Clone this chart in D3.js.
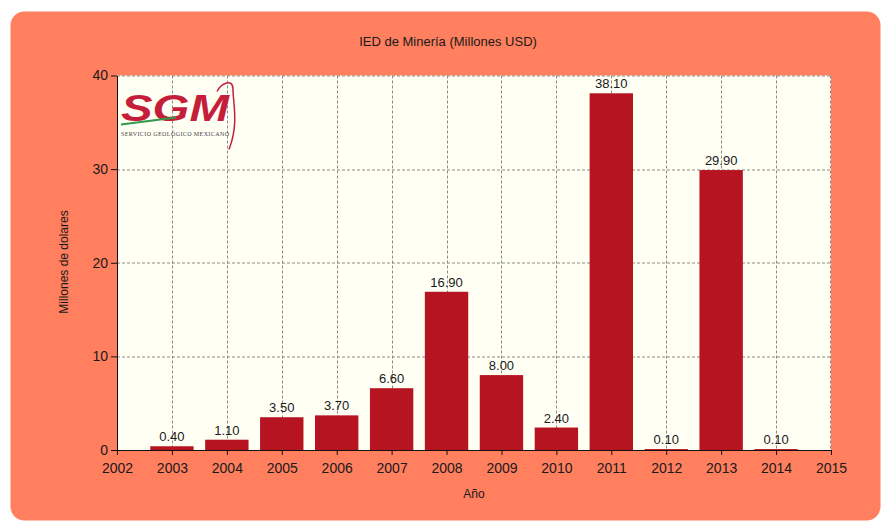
<!DOCTYPE html>
<html>
<head>
<meta charset="utf-8">
<script src="https://cdn.jsdelivr.net/npm/d3@7"></script>
<style>
  body { margin: 0; background: #ffffff; }
  svg { display: block; font-family: "Liberation Sans", Arial, sans-serif; }
</style>
</head>
<body>
<div id="chart"></div>
<script>
// datos del grafico
var anios = [2003, 2004, 2005, 2006, 2007, 2008, 2009, 2010, 2011, 2012, 2013, 2014];
var valores = [0.40, 1.10, 3.50, 3.70, 6.60, 16.90, 8.00, 2.40, 38.10, 0.10, 29.90, 0.10];
var ticksX = [2002, 2003, 2004, 2005, 2006, 2007, 2008, 2009, 2010, 2011, 2012, 2013, 2014, 2015];
var ticksY = [0, 10, 20, 30, 40];

var W = 883, H = 523;
var margin = { top: 75.5, right: 52, bottom: 73, left: 117 },
    width = W - margin.left - margin.right,
    height = H - margin.top - margin.bottom;

var svg = d3.select("#chart").append("svg")
    .attr("width", W)
    .attr("height", H);

// panel naranja de fondo
svg.append("rect")
    .attr("x", 10.5).attr("y", 11.5)
    .attr("width", 870).attr("height", 509)
    .attr("rx", 14).attr("ry", 14)
    .attr("fill", "#ff7f5f");

var g = svg.append("g")
    .attr("transform", "translate(" + margin.left + "," + margin.top + ")");

// scales
var x = d3.scaleLinear().domain([2002, 2015]).range([0, width]);
var y = d3.scaleLinear().domain([0, 40]).range([height, 0]);
var step = x(2003) - x(2002);
var barW = step * 0.79;

// area del grafico
g.append("rect")
    .attr("width", width).attr("height", height)
    .attr("fill", "#fffff4");

// grid
g.selectAll(".gx").data(ticksX.slice(1, -1)).enter().append("line")
    .attr("x1", function (d) { return Math.round(x(d)) + 0.5; })
    .attr("x2", function (d) { return Math.round(x(d)) + 0.5; })
    .attr("y1", 0).attr("y2", height)
    .attr("stroke", "#8a8a8a").attr("stroke-dasharray", "3,2");
g.append("line")
    .attr("x1", width - 0.5).attr("x2", width - 0.5)
    .attr("y1", 0).attr("y2", height)
    .attr("stroke", "#8a8a8a").attr("stroke-dasharray", "3,2");
g.selectAll(".gy").data(ticksY.slice(1)).enter().append("line")
    .attr("x1", 0).attr("x2", width)
    .attr("y1", function (d) { return Math.round(y(d)) + 0.5; })
    .attr("y2", function (d) { return Math.round(y(d)) + 0.5; })
    .attr("stroke", "#8a8a8a").attr("stroke-dasharray", "3,2");

// logo SGM (aproximado)
var logo = g.append("g").attr("transform", "translate(4,8)");
logo.append("text")
    .attr("x", 0).attr("y", 37)
    .attr("font-size", 36).attr("font-weight", "bold").attr("font-style", "italic")
    .attr("fill", "#c41e3a").attr("textLength", 108).attr("lengthAdjust", "spacingAndGlyphs")
    .text("SGM");
logo.append("line")
    .attr("x1", 0).attr("y1", 41).attr("x2", 55).attr("y2", 34)
    .attr("stroke", "#2e9a4a").attr("stroke-width", 2);
logo.append("path")
    .attr("d", "M 96 8 C 100 0, 112 -6, 112 6 C 112 20, 118 40, 108 66")
    .attr("fill", "none").attr("stroke", "#c41e3a").attr("stroke-width", 1.5);
logo.append("text")
    .attr("x", 0).attr("y", 52)
    .attr("font-size", 6).attr("font-family", "Liberation Serif, serif")
    .attr("fill", "#444").attr("textLength", 108)
    .text("SERVICIO GEOLÓGICO MEXICANO");

// bars
g.selectAll(".bar").data(valores).enter().append("rect")
    .attr("x", function (d, i) { return x(anios[i]) - barW / 2; })
    .attr("y", function (d) { return y(d); })
    .attr("width", barW)
    .attr("height", function (d) { return height - y(d); })
    .attr("fill", "#b51420");

// etiquetas sobre las barras
g.selectAll(".lbl").data(valores).enter().append("text")
    .attr("x", function (d, i) { return x(anios[i]); })
    .attr("y", function (d) { return y(d) - 5; })
    .attr("text-anchor", "middle")
    .attr("font-size", 13)
    .attr("fill", "#1a1a1a")
    .text(function (d) { return d.toFixed(2); });

// axes
var ax = g.append("g")
    .attr("transform", "translate(0," + height + ")")
    .call(d3.axisBottom(x).tickValues(ticksX).tickFormat(d3.format("d")).tickSize(5).tickSizeOuter(0));
var ay = g.append("g")
    .call(d3.axisLeft(y).tickValues(ticksY).tickSize(6).tickSizeOuter(0));
[ax, ay].forEach(function (a) {
    a.select(".domain").attr("stroke", "#111");
    a.selectAll(".tick line").attr("stroke", "#111");
    a.selectAll("text").attr("font-size", 14).attr("fill", "#1a1a1a")
        .attr("font-family", "Liberation Sans, Arial, sans-serif");
});
ax.selectAll("text").attr("dy", "1.05em");

// titles
svg.append("text")
    .attr("x", 448).attr("y", 46)
    .attr("text-anchor", "middle").attr("font-size", 13).attr("fill", "#1a1a1a")
    .text("IED de Minería (Millones USD)");
svg.append("text")
    .attr("x", 474).attr("y", 498)
    .attr("text-anchor", "middle").attr("font-size", 12).attr("fill", "#1a1a1a")
    .text("Año");
svg.append("text")
    .attr("transform", "translate(68,262) rotate(-90)")
    .attr("text-anchor", "middle").attr("font-size", 12).attr("fill", "#1a1a1a")
    .text("Millones de dolares");
</script>
</body>
</html>
